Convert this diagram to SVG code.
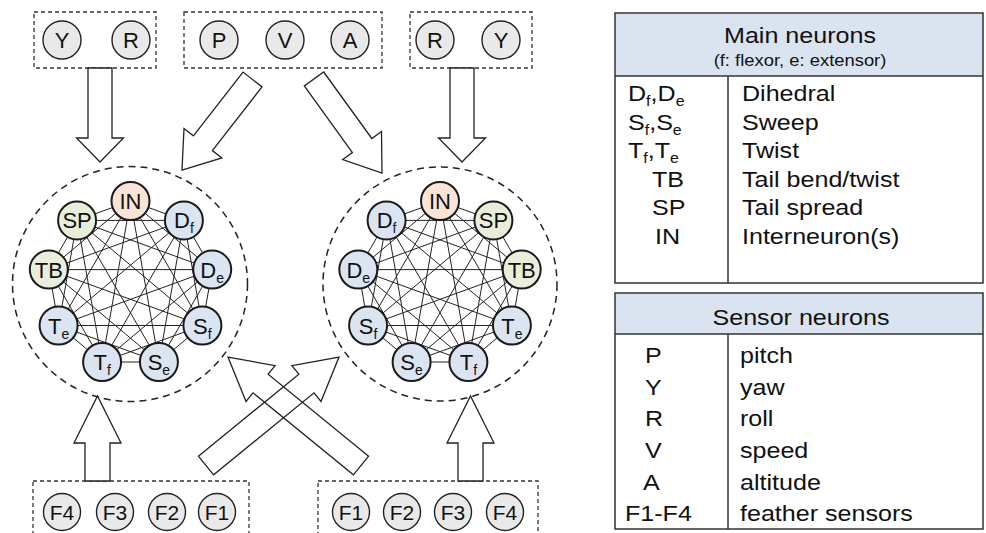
<svg xmlns="http://www.w3.org/2000/svg" xmlns:xlink="http://www.w3.org/1999/xlink" width="986" height="533" viewBox="0 0 986 533">
<style>
text{font-family:"Liberation Sans",Arial,sans-serif;fill:#111}
.lbl{font-size:22px;text-anchor:middle}
.sub{font-size:14px}
.tsub{font-size:14px}
.nd{stroke:#1a1a1a;stroke-width:2}
.in{fill:#fbe4d5}
.gr{fill:#e9eedb}
.bl{fill:#dbe4f1}
.sn{fill:#e9e9e9;stroke:#222;stroke-width:1.4}
.box{fill:none;stroke:#333;stroke-width:1.3;stroke-dasharray:4 3}
.ring{fill:none;stroke:#222;stroke-width:1.5;stroke-dasharray:7 5}
.edge{fill:none;stroke:#222;stroke-width:1}
.barrow{fill:#fff;stroke:#222;stroke-width:1.3;stroke-linejoin:miter}
.xarrow{fill:none;stroke:#222;stroke-width:1.3}
.tb{fill:none;stroke:#333;stroke-width:1.5}
.hd{fill:#dae3f0}
.t{font-size:22px}
.tc{text-anchor:middle}
</style>
<defs>
<path id="k9" d="M130.5,201 L183.9,220.4 L212.2,269.6 L202.4,325.5 L158.9,362 L102.1,362 L58.6,325.5 L48.8,269.6 L77.1,220.4 Z M130.5,201 L212.2,269.6 L158.9,362 L58.6,325.5 L77.1,220.4 L183.9,220.4 L202.4,325.5 L102.1,362 L48.8,269.6 Z M130.5,201 L158.9,362 L77.1,220.4 L202.4,325.5 L48.8,269.6 L212.2,269.6 L58.6,325.5 L183.9,220.4 L102.1,362 Z M130.5,201 L202.4,325.5 L58.6,325.5 Z M183.9,220.4 L158.9,362 L48.8,269.6 Z M212.2,269.6 L102.1,362 L77.1,220.4 Z"/>
</defs>

<!-- sensor boxes -->
<g id="box-top-left">
<rect class="box" x="34" y="12" width="122" height="56"/>
<circle class="sn" cx="62" cy="40" r="19"/><text class="lbl" x="62" y="48">Y</text>
<circle class="sn" cx="131" cy="40" r="19"/><text class="lbl" x="131" y="48">R</text>
</g>
<g id="box-top-mid">
<rect class="box" x="184" y="12" width="198" height="56"/>
<circle class="sn" cx="219" cy="40" r="19"/><text class="lbl" x="219" y="48">P</text>
<circle class="sn" cx="285" cy="40" r="19"/><text class="lbl" x="285" y="48">V</text>
<circle class="sn" cx="350" cy="40" r="19"/><text class="lbl" x="350" y="48">A</text>
</g>
<g id="box-top-right">
<rect class="box" x="410" y="12" width="122" height="56"/>
<circle class="sn" cx="435" cy="40" r="19"/><text class="lbl" x="435" y="48">R</text>
<circle class="sn" cx="501" cy="40" r="19"/><text class="lbl" x="501" y="48">Y</text>
</g>
<g id="box-bottom-left">
<rect class="box" x="33" y="481" width="216" height="70"/>
<circle class="sn" cx="62" cy="512" r="18.5"/><text class="lbl" x="62" y="519.5" style="font-size:21px">F4</text>
<circle class="sn" cx="115" cy="512" r="18.5"/><text class="lbl" x="115" y="519.5" style="font-size:21px">F3</text>
<circle class="sn" cx="167" cy="512" r="18.5"/><text class="lbl" x="167" y="519.5" style="font-size:21px">F2</text>
<circle class="sn" cx="217" cy="512" r="18.5"/><text class="lbl" x="217" y="519.5" style="font-size:21px">F1</text>
</g>
<g id="box-bottom-right">
<rect class="box" x="318" y="481" width="220" height="70"/>
<circle class="sn" cx="351" cy="512" r="18.5"/><text class="lbl" x="351" y="519.5" style="font-size:21px">F1</text>
<circle class="sn" cx="402" cy="512" r="18.5"/><text class="lbl" x="402" y="519.5" style="font-size:21px">F2</text>
<circle class="sn" cx="453" cy="512" r="18.5"/><text class="lbl" x="453" y="519.5" style="font-size:21px">F3</text>
<circle class="sn" cx="505" cy="512" r="18.5"/><text class="lbl" x="505" y="519.5" style="font-size:21px">F4</text>
</g>

<!-- network rings -->
<g id="ring-left"><circle class="ring" cx="130" cy="284" r="117.5"/></g>
<g id="ring-right"><circle class="ring" cx="440" cy="284" r="117"/></g>

<!-- connectors -->
<g id="connectors">
<use xlink:href="#k9" href="#k9" class="edge"/>
<use xlink:href="#k9" href="#k9" class="edge" transform="translate(309.5,0)"/>
<polygon class="barrow" points="88,68 112,68 112,138 123.5,138 100,162 76.5,138 88,138"/>
<polygon class="barrow" points="450,68 474,68 474,138 485.5,138 462,162 438.5,138 450,138"/>
<polygon class="barrow" points="243,72.1 193.4,135.8 184,128.5 182,170 221.8,157.9 212.4,150.6 262,86.9"/>
<polygon class="barrow" points="323.7,72 371.8,138.5 381.5,131.4 382,173 342.7,159.6 352.4,152.5 304.3,86"/>
<polygon class="barrow" points="85,481 85,443 74,443 97.5,396 121,443 110,443 110,481"/>
<polygon class="barrow" points="458,481 458,443 447,443 470.5,396 494,443 483,443 483,481"/>
<polygon class="xarrow" points="198.4,456.2 298.9,374.2 291.9,365.7 339,357 321,401.4 314,392.8 213.6,474.8"/>
<polygon class="xarrow" points="368.6,456.2 268.1,374.2 275.1,365.7 228,357 246,401.4 253,392.8 353.4,474.8"/>
</g>

<!-- left network nodes -->
<g id="L-IN"><circle class="nd in" cx="130.5" cy="201" r="19"/><text class="lbl" x="130.5" y="209">IN</text></g>
<g id="L-Df"><circle class="nd bl" cx="183.9" cy="220.4" r="19"/><text class="lbl" x="183.9" y="228.4">D<tspan class="sub" dy="5">f</tspan></text></g>
<g id="L-De"><circle class="nd bl" cx="212.2" cy="269.6" r="19"/><text class="lbl" x="212.2" y="277.6">D<tspan class="sub" dy="5">e</tspan></text></g>
<g id="L-Sf"><circle class="nd bl" cx="202.4" cy="325.5" r="19"/><text class="lbl" x="202.4" y="333.5">S<tspan class="sub" dy="5">f</tspan></text></g>
<g id="L-Se"><circle class="nd bl" cx="158.9" cy="362" r="19"/><text class="lbl" x="158.9" y="370">S<tspan class="sub" dy="5">e</tspan></text></g>
<g id="L-Tf"><circle class="nd bl" cx="102.1" cy="362" r="19"/><text class="lbl" x="102.1" y="370">T<tspan class="sub" dy="5">f</tspan></text></g>
<g id="L-Te"><circle class="nd bl" cx="58.6" cy="325.5" r="19"/><text class="lbl" x="58.6" y="333.5">T<tspan class="sub" dy="5">e</tspan></text></g>
<g id="L-TB"><circle class="nd gr" cx="48.8" cy="269.6" r="19"/><text class="lbl" x="48.8" y="277.6">TB</text></g>
<g id="L-SP"><circle class="nd gr" cx="77.1" cy="220.4" r="19"/><text class="lbl" x="77.1" y="228.4">SP</text></g>

<!-- right network nodes -->
<g id="R-IN"><circle class="nd in" cx="440" cy="201" r="19"/><text class="lbl" x="440" y="209">IN</text></g>
<g id="R-SP"><circle class="nd gr" cx="493.4" cy="220.4" r="19"/><text class="lbl" x="493.4" y="228.4">SP</text></g>
<g id="R-TB"><circle class="nd gr" cx="521.7" cy="269.6" r="19"/><text class="lbl" x="521.7" y="277.6">TB</text></g>
<g id="R-Te"><circle class="nd bl" cx="511.9" cy="325.5" r="19"/><text class="lbl" x="511.9" y="333.5">T<tspan class="sub" dy="5">e</tspan></text></g>
<g id="R-Tf"><circle class="nd bl" cx="468.4" cy="362" r="19"/><text class="lbl" x="468.4" y="370">T<tspan class="sub" dy="5">f</tspan></text></g>
<g id="R-Se"><circle class="nd bl" cx="411.6" cy="362" r="19"/><text class="lbl" x="411.6" y="370">S<tspan class="sub" dy="5">e</tspan></text></g>
<g id="R-Sf"><circle class="nd bl" cx="368.1" cy="325.5" r="19"/><text class="lbl" x="368.1" y="333.5">S<tspan class="sub" dy="5">f</tspan></text></g>
<g id="R-De"><circle class="nd bl" cx="358.3" cy="269.6" r="19"/><text class="lbl" x="358.3" y="277.6">D<tspan class="sub" dy="5">e</tspan></text></g>
<g id="R-Df"><circle class="nd bl" cx="386.6" cy="220.4" r="19"/><text class="lbl" x="386.6" y="228.4">D<tspan class="sub" dy="5">f</tspan></text></g>

<!-- table: main neurons -->
<g id="table-main">
<rect class="hd" x="615" y="13" width="368" height="63"/>
<rect class="tb" x="615" y="13" width="368" height="270"/>
<line class="tb" x1="615" y1="76" x2="983" y2="76"/>
<line class="tb" x1="728" y1="76" x2="728" y2="283"/>
<text class="t tc" transform="translate(800,43) scale(1.14,1)">Main neurons</text>
<text class="tc" style="font-size:16px" transform="translate(800,66) scale(1.15,1)">(f: flexor, e: extensor)</text>
<text class="t" transform="translate(628,101) scale(1.14,1)">D<tspan class="tsub" dy="5">f</tspan><tspan dy="-5">,D</tspan><tspan class="tsub" dy="5">e</tspan></text>
<text class="t" transform="translate(628,129.5) scale(1.14,1)">S<tspan class="tsub" dy="5">f</tspan><tspan dy="-5">,S</tspan><tspan class="tsub" dy="5">e</tspan></text>
<text class="t" transform="translate(628,158) scale(1.14,1)">T<tspan class="tsub" dy="5">f</tspan><tspan dy="-5">,T</tspan><tspan class="tsub" dy="5">e</tspan></text>
<text class="t" transform="translate(652,186.5) scale(1.14,1)">TB</text>
<text class="t" transform="translate(652,215) scale(1.14,1)">SP</text>
<text class="t" transform="translate(655,243.5) scale(1.14,1)">IN</text>
<text class="t" transform="translate(742,101) scale(1.14,1)">Dihedral</text>
<text class="t" transform="translate(742,129.5) scale(1.14,1)">Sweep</text>
<text class="t" transform="translate(742,158) scale(1.14,1)">Twist</text>
<text class="t" transform="translate(742,186.5) scale(1.14,1)">Tail bend/twist</text>
<text class="t" transform="translate(742,215) scale(1.14,1)">Tail spread</text>
<text class="t" transform="translate(742,243.5) scale(1.14,1)">Interneuron(s)</text>
</g>

<!-- table: sensor neurons -->
<g id="table-sensor">
<rect class="hd" x="615" y="293" width="368" height="41"/>
<rect class="tb" x="615" y="293" width="368" height="236"/>
<line class="tb" x1="615" y1="334" x2="983" y2="334"/>
<line class="tb" x1="728" y1="334" x2="728" y2="529"/>
<text class="t tc" transform="translate(801,325) scale(1.14,1)">Sensor neurons</text>
<text class="t" transform="translate(645,363) scale(1.14,1)">P</text>
<text class="t" transform="translate(645,395) scale(1.14,1)">Y</text>
<text class="t" transform="translate(645,426) scale(1.14,1)">R</text>
<text class="t" transform="translate(645,458) scale(1.14,1)">V</text>
<text class="t" transform="translate(643,490) scale(1.14,1)">A</text>
<text class="t" transform="translate(625,521) scale(1.14,1)">F1-F4</text>
<text class="t" transform="translate(740,363) scale(1.14,1)">pitch</text>
<text class="t" transform="translate(740,395) scale(1.14,1)">yaw</text>
<text class="t" transform="translate(740,426) scale(1.14,1)">roll</text>
<text class="t" transform="translate(740,458) scale(1.14,1)">speed</text>
<text class="t" transform="translate(740,490) scale(1.14,1)">altitude</text>
<text class="t" transform="translate(740,521) scale(1.14,1)">feather sensors</text>
</g>
</svg>
